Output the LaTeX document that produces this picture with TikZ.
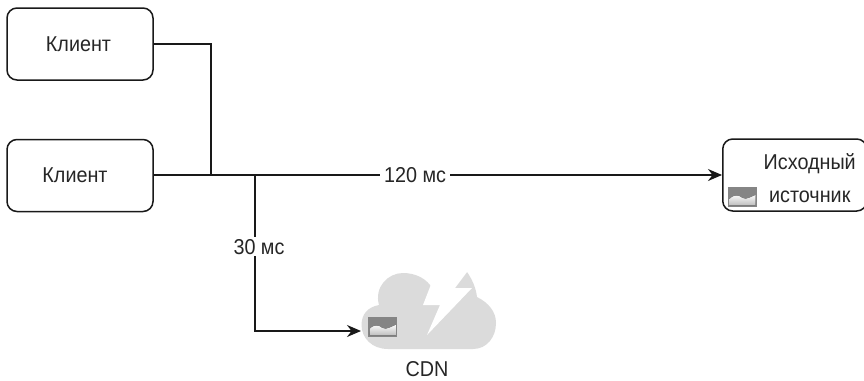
\documentclass[tikz,border=0pt]{standalone}
\usepackage{fontspec}
\setmainfont[FakeStretch=0.92]{Liberation Sans}
\usetikzlibrary{arrows.meta, positioning}

\begin{document}
\begin{tikzpicture}[
    x=1pt, y=-1pt,
    every node/.style={font=\fontsize{21.5}{25}\selectfont, text=black!85, align=center, inner sep=2pt},
    box/.style={rectangle, draw=black!90, line width=1.5pt, rounded corners=10pt, minimum width=146pt, minimum height=72pt},
    arrow/.style={-{Stealth[length=14pt, width=12pt]}, line width=1.5pt, draw=black!90},
    wire/.style={line width=1.5pt, draw=black!90},
    delay/.style={fill=white, inner xsep=4pt},
    imgicon/.style={rectangle, minimum width=29pt, minimum height=20pt, inner sep=0pt, fill=black!48},
    mound/.style={top color=white, bottom color=black!25}
]
\useasboundingbox (0,0) rectangle (864,380);

% CLOUD
\fill[black!14] (388,349) .. controls (372,349) and (361.5,338) .. (361.5,325)
    .. controls (361.5,314) and (368,307) .. (379,305)
    .. controls (374,287) and (388,273) .. (403,273)
    .. controls (416,273) and (427,279) .. (432,288)
    -- (467,272)
    .. controls (472,279) and (476,288) .. (477,297)
    .. controls (489,303) and (496,312) .. (496,323)
    .. controls (496,337) and (487,349) .. (473,349) -- cycle;
\fill[white] (437,269) -- (423,305) -- (440,305) -- (427,335) -- (472,288) -- (455,288) -- (467,272) -- cycle;

% NODES
\node[box] (clientA) at (80,44) {\hspace*{-3pt}Клиент};
\node[box] (clientB) at (80,175.5) {\hspace*{-10pt}Клиент};
\node[box, minimum width=144pt, anchor=west] (origin) at (722,175) {\rule{0pt}{23pt}\hspace*{30pt}Исходный\\[8pt]\hspace*{30pt}источник};
\node[imgicon] (originImg) at (742.5,197) {};
\node[imgicon] (cdnImg) at (382.5,327) {};
\node (cdnLabel) at (427,369) {CDN};
\coordinate (joinA) at (211,175);
\coordinate (joinB) at (255,175);
\coordinate (cdn) at (361,331);

% ICONS
\foreach \icon in {originImg, cdnImg} {
  \begin{scope}[shift={(\icon.center)}]
    \fill[mound] (-13,8) -- (-13,2) .. controls (-8,-3) and (-4,-2) .. (0,1) .. controls (4,3) and (8,0) .. (13,-2) -- (13,8) -- cycle;
  \end{scope}
}

% ARROWS
\draw[wire] (clientA.east) -| (joinA);
\draw[arrow] (clientB.east |- origin.west) -- node[delay, pos=0.46] (slowLabel) {120 мс} (origin.west);
\draw[arrow] (joinB) |- node[delay, pos=0.23, xshift=4pt] (fastLabel) {30 мс} (cdn);

\end{tikzpicture}
\end{document}
